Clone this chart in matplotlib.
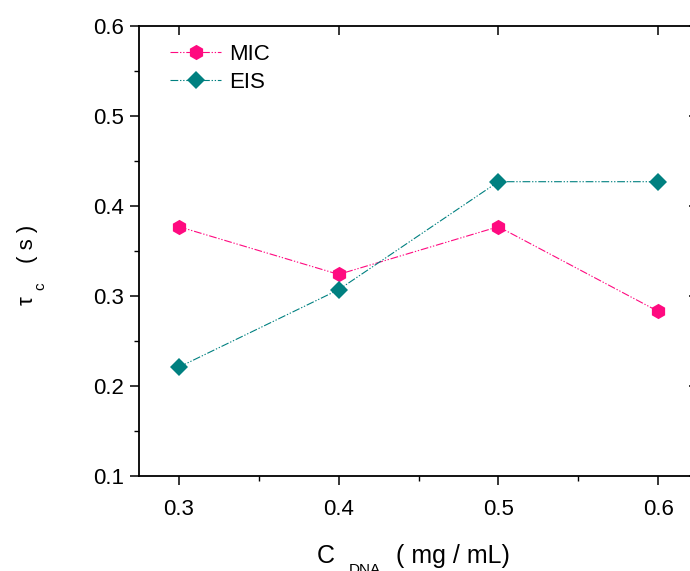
import matplotlib
matplotlib.use("Agg")
import matplotlib.pyplot as plt
from matplotlib.ticker import MultipleLocator

plt.rcParams['font.family'] = ['Liberation Sans', 'DejaVu Sans']

# Data
conc = [0.3, 0.4, 0.5, 0.6]
mic = [0.377, 0.324, 0.377, 0.283]
eis = [0.221, 0.307, 0.427, 0.427]
xticks = [0.3, 0.4, 0.5, 0.6]
yticks = [0.1, 0.2, 0.3, 0.4, 0.5, 0.6]

W, H = 690, 571
fig = plt.figure(figsize=(W / 100, H / 100), dpi=100)
L, R, T, B = 139, 698, 26, 476
ax = fig.add_axes([L / W, (H - B) / H, (R - L) / W, (B - T) / H])

ls = (0, (7, 1.6, 1.2, 1.6, 1.2, 1.6))
ax.plot(conc, mic, color='#FF0A80', lw=0.8, linestyle=ls, marker='h',
        markersize=11, markeredgewidth=0, label='MIC')
ax.plot(conc, eis, color='#008080', lw=0.8, linestyle=ls, marker='D',
        markersize=9, markeredgewidth=0, label='EIS')

ax.set_xlim(0.275, 0.625)
ax.set_ylim(0.1, 0.6)
ax.set_xticks(xticks)
ax.set_yticks(yticks)
ax.set_xticklabels([f"{v:.1f}" for v in xticks])
ax.set_yticklabels([f"{v:.1f}" for v in yticks])
ax.xaxis.set_minor_locator(MultipleLocator(0.05))
ax.yaxis.set_minor_locator(MultipleLocator(0.05))
for s in ax.spines.values():
    s.set_linewidth(1.3)
ax.tick_params(which='major', direction='out', length=6.5, width=1.1,
               labelsize=16, pad=4, top=False, right=False)
ax.tick_params(axis='x', which='major', pad=10)
ax.tick_params(which='minor', direction='out', length=3.5, width=1.0,
               top=False, right=False)
# inward ticks on top and right (major only)
ax.tick_params(which='major', top=True, right=True)
for t in ax.xaxis.get_major_ticks():
    t.tick2line.set_marker(3)  # TICKDOWN
for t in ax.yaxis.get_major_ticks():
    t.tick2line.set_marker(0)  # TICKLEFT

leg = ax.legend(loc='upper left', bbox_to_anchor=(170 / W, 1 - 44 / H),
                bbox_transform=fig.transFigure, frameon=False, fontsize=16,
                handlelength=2.3, handletextpad=0.35, labelspacing=0.3,
                borderaxespad=0, borderpad=0)

# x label pieces
fig.text(317 / W, 1 - 563 / H, "C", fontsize=18, ha='left', va='baseline')
fig.text(349 / W, 1 - 574 / H, "DNA", fontsize=11, ha='left', va='baseline')
fig.text(396 / W, 1 - 563 / H, "( mg / mL)", fontsize=18, ha='left', va='baseline')

# y label pieces (rotated)
fig.text(38 / W, 1 - 305 / H, "τ", fontsize=16, rotation=90, ha='right', va='bottom')
fig.text(47 / W, 1 - 290 / H, "c", fontsize=11, rotation=90, ha='right', va='bottom')
fig.text(38 / W, 1 - 263 / H, "( s )", fontsize=16, rotation=90, ha='right', va='bottom')

fig.savefig("out.png", dpi=100)
